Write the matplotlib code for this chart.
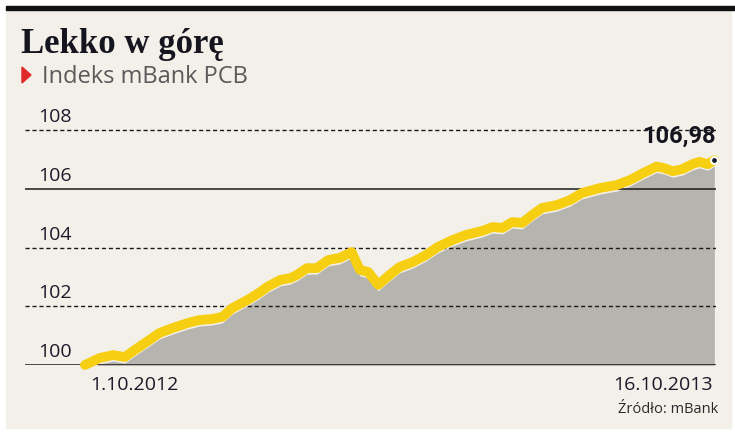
import matplotlib.pyplot as plt
import matplotlib.transforms as mtransforms
from matplotlib.patches import Rectangle, Polygon

# Indeks mBank PCB, days since 1.10.2012
days = [0, 9, 17, 24, 30, 37, 45, 53, 62, 69, 77, 83, 89, 98, 106, 110, 118, 124,
        128, 134, 140, 147, 154, 161, 166, 171, 177, 184, 190, 198, 206, 213, 222,
        230, 240, 246, 252, 258, 264, 270, 276, 285, 293, 300, 311, 321, 329, 337,
        345, 349, 355, 361, 367, 371, 376, 380]
values = [100.0, 100.24, 100.34, 100.27, 100.51, 100.78, 101.09, 101.26, 101.43,
          101.53, 101.57, 101.64, 101.94, 102.21, 102.49, 102.66, 102.90, 102.96,
          103.07, 103.30, 103.30, 103.58, 103.65, 103.85, 103.24, 103.17, 102.73,
          103.07, 103.34, 103.51, 103.75, 104.02, 104.26, 104.43, 104.57, 104.70,
          104.67, 104.87, 104.84, 105.11, 105.35, 105.45, 105.62, 105.86, 106.03,
          106.13, 106.30, 106.54, 106.76, 106.72, 106.60, 106.68, 106.85, 106.92,
          106.84, 106.98]
yticks = [100, 102, 104, 106, 108]
solid_ticks = [100, 106]
date_labels = ['1.10.2012', '16.10.2013']
last_label = '106,98'

W, H = 735, 432
fig = plt.figure(figsize=(W / 100, H / 100), dpi=100)
fig.patch.set_facecolor('white')

# background panel and top bar
fig.patches.append(Rectangle((6 / W, 1 - 428 / H), 725 / W, 418 / H,
                             transform=fig.transFigure, color='#f3f0ea', zorder=0))
fig.patches.append(Rectangle((6 / W, 1 - 10 / H), 729 / W, 4 / H,
                             transform=fig.transFigure, color='#111111', zorder=1))

ax = fig.add_axes([25 / W, 1 - 365 / H, 691 / W, 249.5 / H])
ax.set_zorder(5)
ax.set_facecolor('none')
ax.set_xlim(-36.2, 381)
ax.set_ylim(100, 108.5)
ax.axis('off')

# grey area sits a few pixels under the yellow line
fill = ax.fill_between(days, values, 100, color='#b5b4ae', lw=0, zorder=1)
shift = mtransforms.ScaledTranslation(0, -6 / 100, fig.dpi_scale_trans)
fill.set_transform(ax.transData + shift)

for t in yticks:
    if t in solid_ticks:
        ax.axhline(t, color='#1a1a1a', lw=1.1, zorder=2)
    else:
        ax.axhline(t, color='#1a1a1a', lw=1, ls=(0, (3, 2)), zorder=2)
    ax.annotate(str(t), xy=(13 / 691, t), xycoords=('axes fraction', 'data'),
                xytext=(0, 8), textcoords='offset pixels', ha='left', va='baseline',
                fontsize=14, family='Open Sans', color='#1a1a2a')

ax.plot(days, values, color='#f6cf12', lw=7, solid_capstyle='round',
        solid_joinstyle='round', zorder=3, clip_on=False)
ax.plot(days[-1], values[-1], 'o', color='#1a1a2a', ms=5, mec='white', mew=1.5,
        zorder=4, clip_on=False)
ax.annotate(last_label, xy=(days[-1], values[-1]), xytext=(1, 17),
            textcoords='offset pixels', ha='right', va='baseline', fontsize=17,
            fontweight='bold', family='Roboto', color='#14141e')

ax.annotate(date_labels[0], xy=(days[0], 100), xytext=(5, -25),
            textcoords='offset pixels', ha='left', va='baseline', fontsize=14,
            family='Open Sans', color='#1a1a2a')
ax.annotate(date_labels[1], xy=(days[-1], 100), xytext=(-2, -25),
            textcoords='offset pixels', ha='right', va='baseline', fontsize=14,
            family='Open Sans', color='#1a1a2a')

fig.text(21 / W, 1 - 53 / H, 'Lekko w górę', family='Liberation Serif',
         fontweight='bold', fontsize=25, color='#15151f', va='baseline')
fig.patches.append(Polygon([[22 / W, 1 - 67 / H], [22 / W, 1 - 83 / H],
                            [31 / W, 1 - 75 / H]], closed=True,
                           transform=fig.transFigure, color='#e02a2a', zorder=2))
fig.text(42 / W, 1 - 83 / H, 'Indeks mBank PCB', family='Open Sans',
         fontsize=17, color='#5a5a5a', va='baseline')
fig.text(718 / W, 1 - 413 / H, 'Źródło: mBank', family='Open Sans',
         fontsize=10.5, color='#2a2a2a', ha='right', va='baseline')

fig.savefig('out.png', dpi=100, facecolor=fig.get_facecolor())
